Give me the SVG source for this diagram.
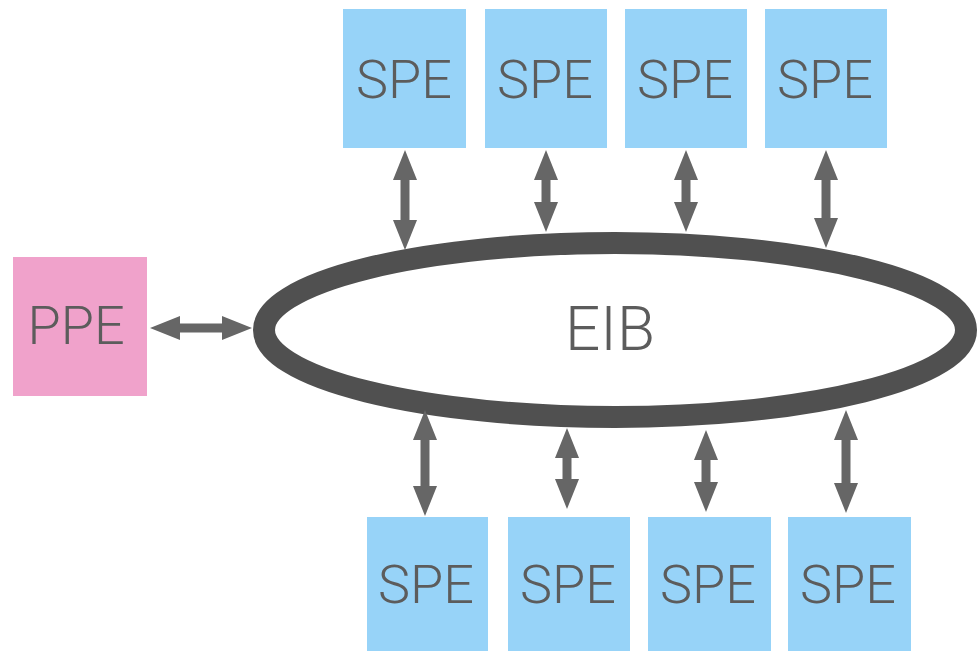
<svg xmlns="http://www.w3.org/2000/svg" width="977" height="651" viewBox="0 0 977 651">
<style>
.spe{fill:#97d3f8}
.ppe{fill:#f0a2cb}
.lbl{font-family:Roboto,"Liberation Sans",sans-serif;font-weight:300;font-size:54px;fill:#5c5c5c;text-anchor:middle}
.ring{fill:none;stroke:#505050;stroke-width:22}
.conn{stroke:#666666;stroke-width:9;fill:none;marker-start:url(#ah);marker-end:url(#ah)}
</style>
<defs>
<marker id="ah" viewBox="0 0 30 24" markerWidth="30" markerHeight="24" refX="2" refY="12" orient="auto-start-reverse" markerUnits="userSpaceOnUse">
<path d="M0,0 L30,12 L0,24 z" fill="#666666"/>
</marker>
</defs>
<rect width="977" height="651" fill="#ffffff"/>
<g id="eib">
<ellipse class="ring" cx="615" cy="330" rx="351" ry="87"/>
<text class="lbl" x="610" y="350" style="font-size:62px">EIB</text>
</g>
<g id="ppe">
<rect class="ppe" x="13" y="257" width="134" height="139"/>
<text class="lbl" x="76" y="344">PPE</text>
</g>
<g id="spe-t1"><rect class="spe" x="343" y="9" width="123" height="139"/><text class="lbl" x="404" y="98">SPE</text></g>
<g id="spe-t2"><rect class="spe" x="485" y="9" width="122" height="139"/><text class="lbl" x="545" y="98">SPE</text></g>
<g id="spe-t3"><rect class="spe" x="625" y="9" width="122" height="139"/><text class="lbl" x="685" y="98">SPE</text></g>
<g id="spe-t4"><rect class="spe" x="765" y="9" width="122" height="139"/><text class="lbl" x="825" y="98">SPE</text></g>
<g id="spe-b1"><rect class="spe" x="367" y="517" width="121" height="140"/><text class="lbl" x="426" y="603">SPE</text></g>
<g id="spe-b2"><rect class="spe" x="508" y="517" width="122" height="140"/><text class="lbl" x="568" y="603">SPE</text></g>
<g id="spe-b3"><rect class="spe" x="648" y="517" width="123" height="140"/><text class="lbl" x="708" y="603">SPE</text></g>
<g id="spe-b4"><rect class="spe" x="788" y="517" width="123" height="140"/><text class="lbl" x="848" y="603">SPE</text></g>
<g id="connectors">
<line class="conn" x1="178" y1="328" x2="224" y2="328"/>
<line class="conn" x1="405" y1="178" x2="405" y2="222"/>
<line class="conn" x1="546" y1="178" x2="546" y2="204"/>
<line class="conn" x1="686" y1="178" x2="686" y2="204"/>
<line class="conn" x1="826" y1="178" x2="826" y2="220"/>
<line class="conn" x1="425" y1="438" x2="425" y2="488"/>
<line class="conn" x1="567" y1="456" x2="567" y2="481"/>
<line class="conn" x1="706" y1="458" x2="706" y2="484"/>
<line class="conn" x1="846" y1="438" x2="846" y2="485"/>
</g>
</svg>
